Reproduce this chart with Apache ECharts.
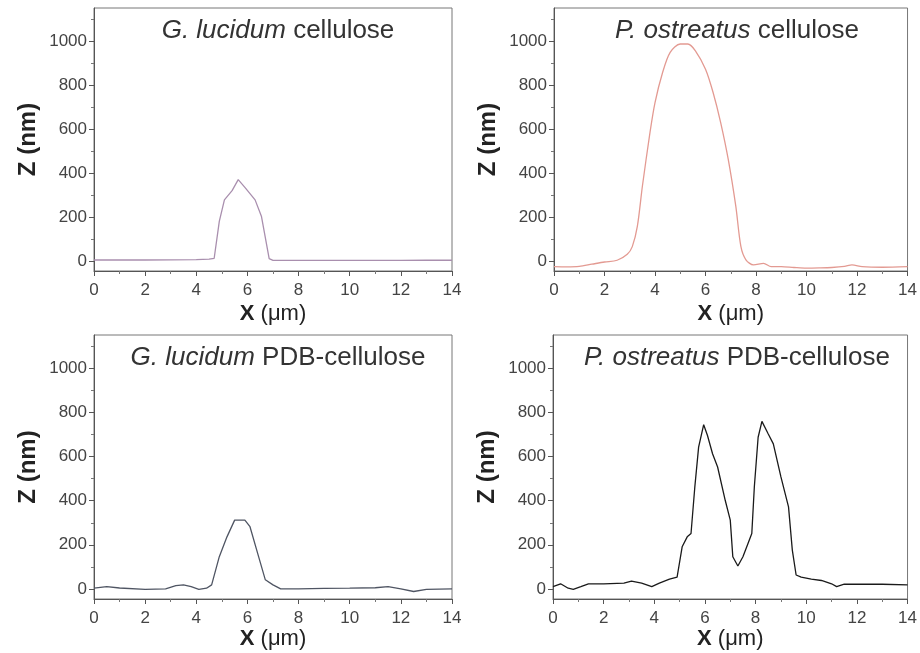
<!DOCTYPE html>
<html>
<head>
<meta charset="utf-8">
<script src="https://cdn.jsdelivr.net/npm/echarts@6/dist/echarts.min.js"></script>
<style>
html,body{margin:0;padding:0;background:#fff;}
#chart{width:920px;height:653px;}
</style>
</head>
<body>
<div id="chart"></div>
<script>
// Panel titles
const titleItalic = ["G. lucidum", "P. ostreatus", "G. lucidum", "P. ostreatus"];
const titleRest = ["cellulose", "cellulose", "PDB-cellulose", "PDB-cellulose"];

// Axis ticks
const xTicks = [0, 2, 4, 6, 8, 10, 12, 14];
const yMajor = [0, 200, 400, 600, 800, 1000];
const yMinor = [100, 300, 500, 700, 900, 1100];

// G. lucidum cellulose
const glX = [0, 1, 2, 3, 4, 4.5, 4.7, 4.9, 5.1, 5.4, 5.64, 5.9, 6.3, 6.55, 6.85, 7.0, 8, 9, 10, 11, 12, 13, 14];
const glZ = [4, 4, 4, 5, 6, 8, 12, 180, 278, 320, 370, 335, 278, 202, 10, 2, 2, 2, 2, 2, 2, 3, 3];

// P. ostreatus cellulose
const poX = [0, 0.5, 1, 1.5, 2, 2.5, 2.9, 3.1, 3.3, 3.5, 3.8, 4.0, 4.3, 4.6, 5.0, 5.3, 5.6, 6.0, 6.3, 6.6, 6.9, 7.2, 7.4, 7.6, 7.9, 8.3, 8.6, 9.0, 9.5, 10, 10.5, 11, 11.5, 11.8, 12.2, 13, 14];
const poZ = [-26, -27, -25, -15, -5, 3, 30, 65, 157, 340, 584, 721, 858, 950, 988, 988, 957, 873, 767, 630, 462, 248, 66, 5, -18, -11, -26, -26, -30, -33, -32, -30, -25, -18, -26, -29, -26];

// G. lucidum PDB-cellulose
const glpX = [0, 0.5, 1, 2, 2.8, 3.2, 3.5, 3.8, 4.1, 4.4, 4.6, 4.9, 5.2, 5.5, 5.9, 6.1, 6.4, 6.7, 7.0, 7.3, 8, 9, 10, 11, 11.5, 12, 12.5, 13, 14];
const glpZ = [3, 10, 4, -2, 0, 15, 18, 10, -2, 3, 18, 146, 236, 312, 312, 282, 161, 41, 18, 0, 0, 2, 3, 5, 10, 0, -12, -2, 0];

// P. ostreatus PDB-cellulose
const popX = [0, 0.3, 0.6, 0.8, 1.1, 1.4, 2, 2.8, 3.1, 3.5, 3.9, 4.2, 4.6, 4.9, 5.1, 5.3, 5.45, 5.6, 5.75, 5.95, 6.1, 6.3, 6.5, 6.8, 7.0, 7.1, 7.3, 7.5, 7.7, 7.85, 7.95, 8.1, 8.25, 8.5, 8.7, 9.0, 9.3, 9.45, 9.6, 9.8, 10.2, 10.6, 11.0, 11.2, 11.5, 12, 13, 14];
const popZ = [10, 23, 3, -2, 10, 23, 23, 26, 35, 26, 10, 26, 44, 53, 191, 236, 251, 462, 643, 745, 696, 613, 553, 402, 312, 146, 104, 146, 206, 251, 462, 688, 760, 703, 658, 508, 372, 176, 63, 53, 44, 38, 23, 10, 21, 21, 21, 18];

const seriesX = [glX, poX, glpX, popX];
const seriesZ = [glZ, poZ, glpZ, popZ];
const lineColors = ["#a98fae", "#e39a92", "#4f5563", "#1a1a1a"];
const lineSmooth = [false, 0.3, false, false];

const grids = [
  {left: 94, top: 8, width: 358, height: 263},
  {left: 554, top: 8, width: 356, height: 263},
  {left: 94, top: 335, width: 358, height: 264},
  {left: 553, top: 335, width: 358, height: 264}
];
const xNameGap = [32, 32, 29, 29];

const FONT = "'Liberation Sans', Arial, sans-serif";
const chart = echarts.init(document.getElementById('chart'), null, {renderer: 'canvas'});

const option = {
  animation: false,
  backgroundColor: '#fff',
  textStyle: {fontFamily: FONT},
  title: [], grid: [], xAxis: [], yAxis: [], series: []
};

grids.forEach((g, i) => {
  option.grid.push(Object.assign({show: true, borderColor: '#777', borderWidth: 1, backgroundColor: 'transparent'}, g));
  option.title.push({
    text: '{i|' + titleItalic[i] + '} ' + titleRest[i],
    left: g.left + g.width / 2,
    top: g.top + 5,
    textAlign: 'center',
    textStyle: {
      fontFamily: FONT, fontSize: 26, fontWeight: 'normal', color: '#333',
      rich: {i: {fontFamily: FONT, fontSize: 26, fontStyle: 'italic', color: '#333'}}
    }
  });
  option.xAxis.push({
    type: 'value', gridIndex: i, min: 0, max: 14, interval: 2,
    axisLine: {show: true, onZero: false, lineStyle: {color: '#555'}},
    axisTick: {show: true, inside: false, length: 5, lineStyle: {color: '#555'}},
    minorTick: {show: true, splitNumber: 2, length: 3, lineStyle: {color: '#777'}},
    splitLine: {show: false},
    minorSplitLine: {show: false},
    axisLabel: {fontSize: 17, color: '#444', margin: 11, fontFamily: FONT},
    name: '{b|X} (μm)', nameLocation: 'middle', nameGap: xNameGap[i],
    nameTextStyle: {fontSize: 22, color: '#222', fontFamily: FONT,
      rich: {b: {fontSize: 22, fontWeight: 'bold', color: '#222', fontFamily: FONT}}}
  });
  option.yAxis.push({
    type: 'value', gridIndex: i, min: -46, max: 1152,
    axisLine: {show: true, onZero: false, lineStyle: {color: '#555'}},
    axisTick: {show: true, inside: false, length: 5, customValues: yMajor, lineStyle: {color: '#555'}},
    splitLine: {show: false},
    axisLabel: {fontSize: 17, color: '#444', margin: 7, customValues: yMajor, fontFamily: FONT,
      formatter: v => String(v)},
    name: 'Z (nm)', nameLocation: 'middle', nameGap: 54,
    nameTextStyle: {fontSize: 24, fontWeight: 'bold', color: '#222', fontFamily: FONT}
  });
  option.series.push({
    type: 'line', xAxisIndex: i, yAxisIndex: i,
    data: seriesX[i].map((x, k) => [x, seriesZ[i][k]]),
    showSymbol: false, symbol: 'none', smooth: lineSmooth[i],
    lineStyle: {color: lineColors[i], width: 1.3}
  });
});
// minor y ticks (separate overlay axes)
grids.forEach((g, i) => {
  option.yAxis.push({
    type: 'value', gridIndex: i, min: -46, max: 1152, position: 'left',
    axisLine: {show: false, onZero: false},
    axisTick: {show: true, inside: false, length: 3, customValues: yMinor, lineStyle: {color: '#777'}},
    axisLabel: {show: false},
    splitLine: {show: false}
  });
});

chart.setOption(option);
</script>
</body>
</html>
